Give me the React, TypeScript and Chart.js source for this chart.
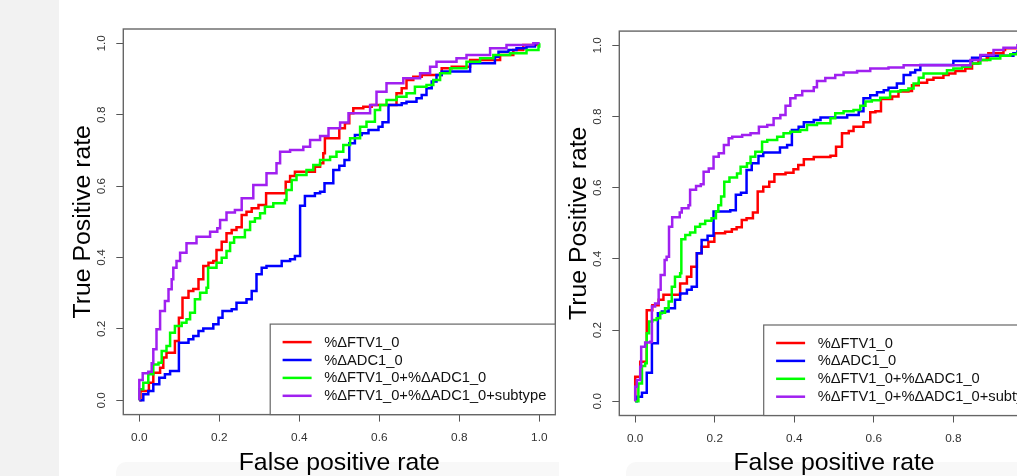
import React, { useEffect, useRef } from 'react';
import { Chart, registerables } from 'chart.js';

Chart.register(...registerables);

const FONT = '"Liberation Sans", Arial, Helvetica, sans-serif';

const SERIES_LABELS = ['%ΔFTV1_0', '%ΔADC1_0', '%ΔFTV1_0+%ΔADC1_0', '%ΔFTV1_0+%ΔADC1_0+subtype'];
const SERIES_COLORS = ['#FF0000', '#0000FF', '#00FF00', '#A020F0'];
const X_TICKS = [0, 0.2, 0.4, 0.6, 0.8, 1.0];
const Y_TICKS = [0, 0.2, 0.4, 0.6, 0.8, 1.0];
const X_TITLE = 'False positive rate';
const Y_TITLE = 'True Positive rate';

// Left panel: ROC steps as [false positive rate, true positive rate] after each jump
const LEFT_FTV = [
  [0.003, 0.026], [0.024, 0.049], [0.035, 0.077], [0.052, 0.091], [0.06, 0.12], [0.068, 0.133], [0.089, 0.166],
  [0.099, 0.231], [0.108, 0.287], [0.123, 0.306], [0.135, 0.312], [0.148, 0.339], [0.16, 0.376], [0.173, 0.385],
  [0.185, 0.39], [0.193, 0.421], [0.206, 0.444], [0.218, 0.468], [0.231, 0.477], [0.243, 0.485], [0.256, 0.519],
  [0.268, 0.528], [0.281, 0.538], [0.298, 0.547], [0.317, 0.58], [0.366, 0.612], [0.377, 0.628], [0.389, 0.64],
  [0.439, 0.654], [0.452, 0.664], [0.46, 0.692], [0.464, 0.734], [0.5, 0.762], [0.514, 0.776], [0.525, 0.804],
  [0.535, 0.818], [0.56, 0.822], [0.581, 0.827], [0.643, 0.86], [0.656, 0.874], [0.668, 0.897], [0.685, 0.906],
  [0.706, 0.911], [0.756, 0.93], [0.781, 0.934], [0.827, 0.953], [0.902, 0.967], [0.935, 0.981], [0.96, 0.995],
  [0.993, 1.0], [1, 1],
];
const LEFT_ADC = [
  [0.01, 0.017], [0.0225, 0.026], [0.035, 0.045], [0.05, 0.063], [0.064, 0.073], [0.077, 0.082], [0.099, 0.161],
  [0.123, 0.171], [0.135, 0.18], [0.148, 0.194], [0.16, 0.201], [0.185, 0.213], [0.198, 0.231], [0.208, 0.25],
  [0.231, 0.255], [0.243, 0.273], [0.268, 0.283], [0.281, 0.306], [0.293, 0.353], [0.306, 0.371], [0.318, 0.376],
  [0.356, 0.39], [0.377, 0.395], [0.389, 0.404], [0.402, 0.545], [0.414, 0.572], [0.439, 0.58], [0.452, 0.584],
  [0.463, 0.608], [0.485, 0.645], [0.5, 0.657], [0.513, 0.673], [0.525, 0.72], [0.539, 0.743], [0.556, 0.748],
  [0.573, 0.757], [0.598, 0.766], [0.608, 0.779], [0.623, 0.827], [0.656, 0.832], [0.668, 0.836], [0.693, 0.846],
  [0.706, 0.855], [0.718, 0.874], [0.731, 0.893], [0.743, 0.911], [0.756, 0.921], [0.827, 0.944], [0.889, 0.962],
  [0.898, 0.976], [0.923, 0.981], [0.943, 0.986], [0.968, 0.991], [0.989, 1.0], [1, 1],
];
const LEFT_BOTH = [
  [0.0, 0.031], [0.01, 0.049], [0.0225, 0.073], [0.035, 0.1], [0.048, 0.105], [0.056, 0.138], [0.068, 0.152],
  [0.077, 0.189], [0.089, 0.208], [0.106, 0.217], [0.118, 0.227], [0.127, 0.245], [0.139, 0.283], [0.152, 0.301],
  [0.168, 0.315], [0.172, 0.371], [0.193, 0.385], [0.206, 0.399], [0.218, 0.418], [0.227, 0.441], [0.237, 0.457],
  [0.264, 0.477], [0.277, 0.5], [0.289, 0.51], [0.302, 0.524], [0.314, 0.542], [0.335, 0.552], [0.364, 0.561],
  [0.368, 0.589], [0.381, 0.617], [0.393, 0.631], [0.418, 0.645], [0.435, 0.659], [0.452, 0.673], [0.477, 0.682],
  [0.493, 0.696], [0.51, 0.715], [0.527, 0.734], [0.552, 0.766], [0.568, 0.78], [0.589, 0.813], [0.602, 0.827],
  [0.618, 0.841], [0.643, 0.85], [0.668, 0.86], [0.689, 0.878], [0.718, 0.883], [0.735, 0.897], [0.752, 0.916],
  [0.777, 0.93], [0.818, 0.948], [0.852, 0.958], [0.885, 0.967], [0.927, 0.972], [0.968, 0.981], [0.998, 0.991],
  [1, 1],
];
const LEFT_SUBTYPE = [
  [0.0, 0.057], [0.0085, 0.076], [0.0225, 0.08], [0.031, 0.104], [0.035, 0.143], [0.043, 0.199], [0.052, 0.25],
  [0.064, 0.278], [0.073, 0.311], [0.081, 0.339], [0.085, 0.371], [0.093, 0.39], [0.102, 0.413], [0.118, 0.44],
  [0.143, 0.458], [0.177, 0.472], [0.195, 0.482], [0.202, 0.505], [0.218, 0.526], [0.239, 0.533], [0.256, 0.566],
  [0.285, 0.603], [0.318, 0.636], [0.343, 0.664], [0.352, 0.696], [0.377, 0.701], [0.41, 0.71], [0.427, 0.729],
  [0.452, 0.74], [0.473, 0.762], [0.502, 0.778], [0.523, 0.804], [0.577, 0.827], [0.593, 0.864], [0.618, 0.888],
  [0.66, 0.902], [0.702, 0.916], [0.727, 0.934], [0.743, 0.948], [0.793, 0.958], [0.818, 0.967], [0.877, 0.986],
  [0.918, 0.995], [0.985, 1.0], [1, 1],
];

// Right panel
const RIGHT_FTV = [
  [0.0, 0.069], [0.0126, 0.111], [0.029, 0.256], [0.043, 0.27], [0.059, 0.285], [0.071, 0.299], [0.113, 0.331],
  [0.13, 0.35], [0.141, 0.378], [0.155, 0.416], [0.167, 0.434], [0.184, 0.448], [0.199, 0.472], [0.226, 0.476],
  [0.243, 0.483], [0.255, 0.489], [0.268, 0.509], [0.28, 0.514], [0.296, 0.53], [0.308, 0.589], [0.322, 0.603],
  [0.337, 0.617], [0.35, 0.638], [0.378, 0.642], [0.398, 0.652], [0.41, 0.664], [0.424, 0.68], [0.449, 0.686],
  [0.491, 0.69], [0.505, 0.715], [0.52, 0.753], [0.537, 0.759], [0.549, 0.771], [0.574, 0.784], [0.591, 0.812],
  [0.604, 0.815], [0.618, 0.849], [0.646, 0.856], [0.662, 0.87], [0.687, 0.872], [0.696, 0.888], [0.713, 0.895],
  [0.734, 0.903], [0.75, 0.909], [0.775, 0.917], [0.788, 0.921], [0.805, 0.928], [0.83, 0.935], [0.847, 0.949],
  [0.863, 0.959], [0.884, 0.965], [0.888, 0.978], [0.926, 0.987], [0.93, 0.992], [0.97, 1.0], [1, 1],
];
const RIGHT_ADC = [
  [0.004, 0.013], [0.017, 0.024], [0.029, 0.08], [0.042, 0.163], [0.057, 0.247], [0.067, 0.252], [0.084, 0.261],
  [0.1, 0.285], [0.113, 0.303], [0.13, 0.313], [0.142, 0.322], [0.155, 0.416], [0.167, 0.453], [0.182, 0.465],
  [0.197, 0.533], [0.239, 0.537], [0.253, 0.58], [0.266, 0.586], [0.28, 0.65], [0.293, 0.669], [0.31, 0.689],
  [0.322, 0.699], [0.364, 0.713], [0.382, 0.72], [0.394, 0.762], [0.411, 0.771], [0.424, 0.784], [0.449, 0.79],
  [0.466, 0.797], [0.533, 0.804], [0.562, 0.815], [0.574, 0.851], [0.591, 0.86], [0.608, 0.868], [0.625, 0.874],
  [0.637, 0.881], [0.658, 0.893], [0.675, 0.917], [0.692, 0.924], [0.704, 0.931], [0.717, 0.945], [0.8, 0.956],
  [0.847, 0.965], [0.868, 0.971], [0.951, 0.978], [0.961, 0.983], [1, 1],
];
const RIGHT_BOTH = [
  [0.008, 0.05], [0.017, 0.099], [0.025, 0.107], [0.029, 0.191], [0.035, 0.224], [0.043, 0.228], [0.054, 0.233],
  [0.063, 0.249], [0.075, 0.261], [0.084, 0.28], [0.092, 0.322], [0.1, 0.35], [0.113, 0.36], [0.116, 0.455],
  [0.126, 0.467], [0.138, 0.474], [0.151, 0.49], [0.163, 0.498], [0.176, 0.507], [0.192, 0.514], [0.203, 0.533],
  [0.209, 0.551], [0.216, 0.575], [0.224, 0.617], [0.237, 0.629], [0.256, 0.64], [0.265, 0.659], [0.281, 0.669],
  [0.29, 0.687], [0.302, 0.701], [0.319, 0.729], [0.332, 0.734], [0.357, 0.743], [0.373, 0.753], [0.39, 0.757],
  [0.415, 0.762], [0.432, 0.776], [0.457, 0.781], [0.491, 0.795], [0.503, 0.809], [0.524, 0.815], [0.549, 0.818],
  [0.566, 0.83], [0.579, 0.842], [0.595, 0.846], [0.616, 0.853], [0.641, 0.87], [0.667, 0.874], [0.687, 0.879],
  [0.7, 0.893], [0.713, 0.909], [0.725, 0.921], [0.784, 0.93], [0.8, 0.935], [0.822, 0.94], [0.843, 0.949],
  [0.868, 0.959], [0.893, 0.963], [0.918, 0.971], [0.943, 0.975], [0.961, 0.978], [1, 1],
];
const RIGHT_SUBTYPE = [
  [0.0, 0.041], [0.004, 0.06], [0.0126, 0.097], [0.015, 0.153], [0.025, 0.165], [0.038, 0.167], [0.042, 0.266],
  [0.05, 0.275], [0.059, 0.313], [0.064, 0.355], [0.074, 0.397], [0.079, 0.406], [0.085, 0.49], [0.093, 0.517],
  [0.112, 0.53], [0.117, 0.542], [0.134, 0.551], [0.138, 0.594], [0.153, 0.605], [0.165, 0.61], [0.172, 0.645],
  [0.185, 0.654], [0.197, 0.687], [0.21, 0.697], [0.223, 0.72], [0.235, 0.739], [0.244, 0.743], [0.269, 0.748],
  [0.29, 0.753], [0.311, 0.771], [0.332, 0.776], [0.348, 0.795], [0.365, 0.804], [0.378, 0.83], [0.39, 0.851],
  [0.403, 0.86], [0.42, 0.872], [0.449, 0.882], [0.457, 0.9], [0.478, 0.908], [0.503, 0.917], [0.524, 0.924],
  [0.558, 0.928], [0.591, 0.935], [0.637, 0.938], [0.675, 0.944], [0.843, 0.959], [0.868, 0.973], [0.901, 0.987],
  [0.926, 0.993], [0.961, 1.0], [1, 1],
];

function toSteps(pts: number[][]) {
  const out: { x: number; y: number }[] = [{ x: 0, y: 0 }];
  let prevY = 0;
  for (const [x, y] of pts) {
    out.push({ x, y: prevY });
    out.push({ x, y });
    prevY = y;
  }
  return out;
}

const rDecor = {
  id: 'rDecor',
  afterDatasetsDraw(chart: any) {
    const { ctx, chartArea: a } = chart;
    ctx.save();
    ctx.strokeStyle = '#666';
    ctx.lineWidth = 1.4;
    ctx.strokeRect(a.left, a.top, a.right - a.left, a.bottom - a.top);
    ctx.restore();
  },
  afterDraw(chart: any) {
    const { ctx, chartArea: a } = chart;
    const ys = chart.scales.y;
    ctx.save();
    ctx.font = `11.8px ${FONT}`;
    ctx.fillStyle = '#333';
    ctx.textAlign = 'center';
    ctx.textBaseline = 'middle';
    ys.ticks.forEach((t: any) => {
      const py = ys.getPixelForValue(t.value);
      ctx.save();
      ctx.translate(a.left - 22, py);
      ctx.rotate(-Math.PI / 2);
      ctx.fillText(Number(t.value).toFixed(1), 0, 0);
      ctx.restore();
    });
    // legend (bottom right, inside the plot box)
    const ds = chart.data.datasets;
    ctx.font = `14.7px ${FONT}`;
    let maxW = 0;
    ds.forEach((d: any) => { maxW = Math.max(maxW, ctx.measureText(d.label).width); });
    const w = 54 + maxW + 9;
    const h = 90.5;
    const x0 = a.right - w;
    const y0 = a.bottom - h;
    ctx.fillStyle = '#fff';
    ctx.fillRect(x0, y0, w, h);
    ctx.strokeStyle = '#666';
    ctx.lineWidth = 1.2;
    ctx.strokeRect(x0, y0, w, h);
    ds.forEach((d: any, i: number) => {
      const ry = y0 + 18 + i * 17.9;
      ctx.strokeStyle = d.borderColor;
      ctx.lineWidth = 2.5;
      ctx.beginPath();
      ctx.moveTo(x0 + 12.4, ry);
      ctx.lineTo(x0 + 41.4, ry);
      ctx.stroke();
      ctx.fillStyle = '#111';
      ctx.textAlign = 'left';
      ctx.textBaseline = 'middle';
      ctx.fillText(d.label, x0 + 54, ry + 0.5);
    });
    ctx.restore();
  },
};

type PanelProps = {
  left: number;
  series: number[][][];
  padTop: number;
  padRight: number;
  xAxisHeight: number;
};

function RocPanel({ left, series, padTop, padRight, xAxisHeight }: PanelProps) {
  const ref = useRef<HTMLCanvasElement | null>(null);
  useEffect(() => {
    if (!ref.current) return;
    const datasets = series.map((s, i) => ({
      label: SERIES_LABELS[i],
      data: toSteps(s),
      borderColor: SERIES_COLORS[i],
      backgroundColor: SERIES_COLORS[i],
      borderWidth: 2.5,
      pointRadius: 0,
      fill: false,
      tension: 0,
      order: series.length - i,
    }));
    const chart = new Chart(ref.current, {
      type: 'line',
      data: { datasets },
      plugins: [rDecor],
      options: {
        animation: false,
        responsive: false,
        devicePixelRatio: 1,
        parsing: false,
        layout: { padding: { top: padTop, right: padRight, left: 0, bottom: 0 } },
        plugins: { legend: { display: false }, tooltip: { enabled: false } },
        scales: {
          x: {
            type: 'linear',
            min: -0.04,
            max: 1.04,
            afterBuildTicks: (s: any) => { s.ticks = X_TICKS.map((v) => ({ value: v })); },
            afterFit: (s: any) => { s.height = xAxisHeight; },
            grid: { drawOnChartArea: false, drawTicks: true, tickLength: 7, color: '#555', lineWidth: 1 },
            border: { display: false },
            ticks: {
              padding: 9,
              color: '#333',
              font: { family: FONT, size: 11.8 },
              maxRotation: 0,
              callback: (v: any) => Number(v).toFixed(1),
            },
            title: {
              display: true,
              text: X_TITLE,
              color: '#000',
              font: { family: FONT, size: 24.8, lineHeight: 1 },
              padding: { top: 0, bottom: 0.5 },
            },
          },
          y: {
            type: 'linear',
            min: -0.04,
            max: 1.04,
            afterBuildTicks: (s: any) => { s.ticks = Y_TICKS.map((v) => ({ value: v })); },
            afterFit: (s: any) => { s.width = 63.3; },
            grid: { drawOnChartArea: false, drawTicks: true, tickLength: 7, color: '#555', lineWidth: 1 },
            border: { display: false },
            ticks: { display: false },
            title: {
              display: true,
              text: Y_TITLE,
              color: '#000',
              font: { family: FONT, size: 24.8, lineHeight: 1 },
              padding: { top: 11, bottom: 0 },
            },
          },
        },
      } as any,
    });
    return () => chart.destroy();
  }, []);
  return (
    <canvas
      ref={ref}
      width={500}
      height={476}
      style={{ position: 'absolute', left, top: 0, width: 500, height: 476, display: 'block' }}
    />
  );
}

export default function App() {
  return (
    <div
      style={{
        position: 'fixed',
        left: 0,
        top: 0,
        width: 1017,
        height: 476,
        overflow: 'hidden',
        background: '#ffffff',
      }}
    >
      <div style={{ position: 'absolute', left: 0, top: 0, width: 59, height: 476, background: '#f2f2f2' }} />
      <div style={{ position: 'absolute', left: 116, top: 462, width: 443, height: 14, background: '#f8f8f8', borderTopLeftRadius: 10 }} />
      <div style={{ position: 'absolute', left: 626, top: 462, width: 391, height: 14, background: '#f8f8f8', borderTopLeftRadius: 10 }} />
      <RocPanel
        left={60}
        series={[LEFT_FTV, LEFT_ADC, LEFT_BOTH, LEFT_SUBTYPE]}
        padTop={29}
        padRight={4.7}
        xAxisHeight={61.4}
      />
      <RocPanel
        left={556}
        series={[RIGHT_FTV, RIGHT_ADC, RIGHT_BOTH, RIGHT_SUBTYPE]}
        padTop={31.1}
        padRight={7.2}
        xAxisHeight={60.5}
      />
    </div>
  );
}
